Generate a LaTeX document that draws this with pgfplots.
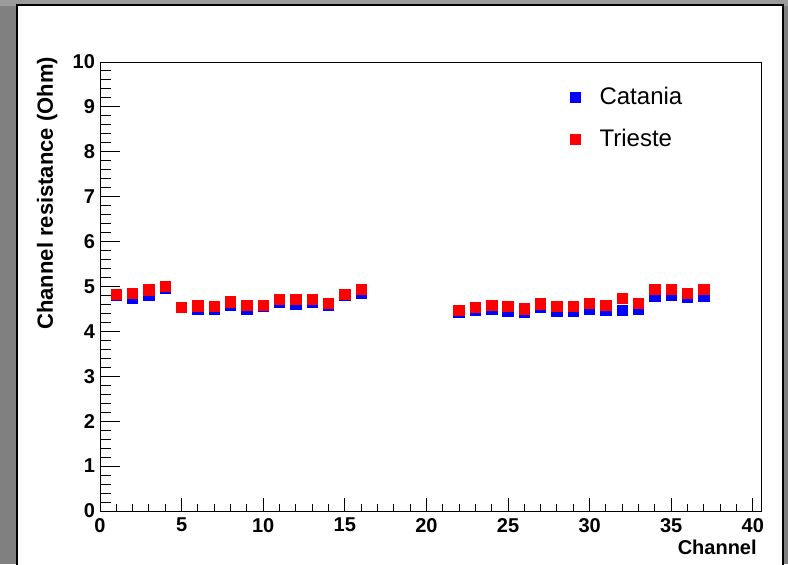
\documentclass[border=0pt]{standalone}
\usepackage{fontspec}
\setmainfont{Liberation Sans}
\usepackage{pgfplots}
\pgfplotsset{compat=1.18}
\definecolor{framegray}{RGB}{128,128,128}
\definecolor{topgray}{RGB}{155,155,155}
\begin{document}
\begin{tikzpicture}
\useasboundingbox (0pt,0pt) rectangle (394pt,282pt);
\fill[framegray] (0pt,0pt) rectangle (394pt,282pt);
\fill[topgray] (0pt,279pt) rectangle (394pt,282pt);
\fill[white] (9pt,0pt) rectangle (391pt,279pt);
\draw[line width=1pt] (8.5pt,-1pt) -- (8.5pt,279.5pt) -- (391.5pt,279.5pt) -- (391.5pt,-1pt);
\begin{axis}[
  at={(50pt,26.5pt)}, anchor=south west,
  scale only axis, width=330.5pt, height=224.5pt,
  xmin=0, xmax=40.5, ymin=0, ymax=10,
  xtick={0,5,...,40}, ytick={0,1,...,10},
  minor x tick num=4, minor y tick num=4,
  tick align=inside, xtick pos=left, ytick pos=left,
  axis line style={line width=0.5pt},
  tick style={line width=0.5pt, black},
  xtick style={/pgfplots/major tick length=6.5pt, /pgfplots/minor tick length=3.5pt},
  ytick style={/pgfplots/major tick length=10pt, /pgfplots/minor tick length=5.5pt},
  /pgf/number format/assume math mode=true,
  tick label style={font=\bfseries\fontsize{10}{12}\selectfont},
  yticklabel style={xshift=1pt},
  xlabel={Channel}, ylabel={Channel resistance (Ohm)},
  xlabel style={font=\bfseries\fontsize{10}{12}\selectfont, inner sep=0pt,
    at={(axis description cs:0.994,-0.096)}, anchor=base east},
  ylabel style={font=\bfseries\fontsize{11}{13}\selectfont, inner sep=0pt,
    at={(axis description cs:-0.080,1.012)}, anchor=east},
  legend image code/.code={\draw[#1] plot coordinates {(0pt,0pt)};},
  legend style={draw=none, fill=none, inner sep=0pt, column sep=9.5pt, row sep=10pt,
    nodes={inner sep=0pt, text height=9pt, text depth=2pt},
    font=\fontsize{12}{14}\selectfont,
    at={(axis description cs:0.7107,0.9465)}, anchor=north west},
  legend cell align=left,
]
\addplot[only marks, mark=square*, mark size=2.6pt, color=blue] coordinates {
  (1,4.81) (2,4.75) (3,4.80) (4,4.97) (5,4.53) (6,4.49) (7,4.49) (8,4.58)
  (9,4.49) (10,4.56) (11,4.64) (12,4.61) (13,4.64) (14,4.58) (15,4.81) (16,4.84)
  (22,4.42) (23,4.47) (24,4.50) (25,4.45) (26,4.42) (27,4.53) (28,4.45) (29,4.45)
  (30,4.50) (31,4.47) (32,4.47) (33,4.50) (34,4.79) (35,4.81) (36,4.76) (37,4.79)
};
\addlegendentry{Catania}
\addplot[only marks, mark=square*, mark size=2.6pt, color=red] coordinates {
  (1,4.82) (2,4.84) (3,4.92) (4,5.00) (5,4.54) (6,4.57) (7,4.56) (8,4.66)
  (9,4.58) (10,4.58) (11,4.71) (12,4.71) (13,4.71) (14,4.63) (15,4.83) (16,4.94)
  (22,4.47) (23,4.53) (24,4.58) (25,4.56) (26,4.50) (27,4.61) (28,4.56) (29,4.56)
  (30,4.63) (31,4.58) (32,4.74) (33,4.63) (34,4.93) (35,4.93) (36,4.84) (37,4.93)
};
\addlegendentry{Trieste}
\end{axis}
\end{tikzpicture}
\end{document}
